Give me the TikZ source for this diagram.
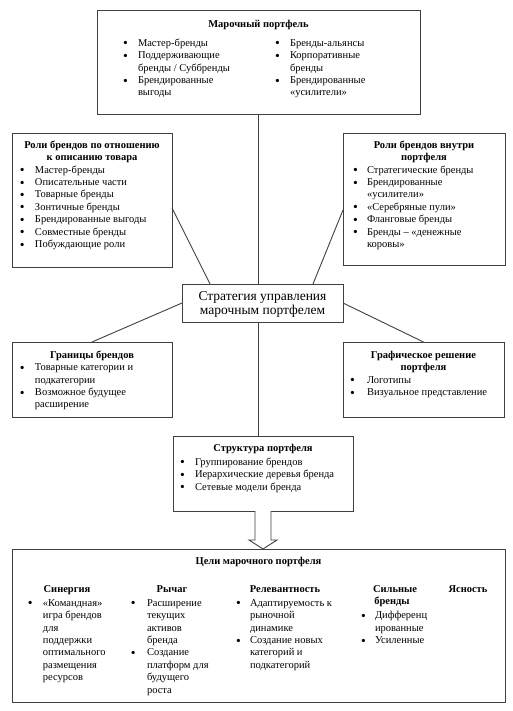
\documentclass[tikz,border=0pt]{standalone}
\usepackage{fontspec}
\usepackage{graphicx}
\setmainfont{Liberation Serif}
\usetikzlibrary{calc}
\newlength\bulO
\newlength\bulI
\newcommand\setbul[2]{\setlength\bulO{#1pt}\setlength\bulI{#2pt}\raggedright}
\newcommand\mybul{\raisebox{-1.5pt}{\scalebox{1.3}{\textbullet}}}
\newcommand\bitem[1]{\par\noindent\hangindent=\bulI\hangafter=1\relax\makebox[\bulI][l]{\hspace*{\bulO}\mybul}#1\par}
\newcommand\colhead[2]{\par\noindent\strut\hspace*{#1pt}\makebox[0pt]{\textbf{#2}}\par}
\newcommand\boxc[3]{\begin{minipage}[t][#2][t]{#1}#3\end{minipage}}
\tikzset{
  bx/.style={draw=black!75, line width=0.9pt, inner sep=0pt, outer sep=0pt, anchor=north west, fill=white, font=\fontsize{10.5}{12.4}\selectfont},
  conn/.style={draw=black!75, line width=0.9pt}
}
\begin{document}
\begin{tikzpicture}[x=1pt,y=-1pt]
\useasboundingbox (0,0) rectangle (512,711);

% top box
\node[bx] (top) at (97,10) {\boxc{323pt}{104pt}{%
\vspace*{8.7pt}
{\centering\strut\textbf{Марочный портфель}\par}
\vspace{6.6pt}
\noindent\parbox[t]{152pt}{\setbul{26}{41}%
\bitem{Мастер-бренды}
\bitem{Поддерживающие\newline бренды / Суббренды}
\bitem{Брендированные\newline выгоды}}%
\parbox[t]{171pt}{\setbul{26}{41}%
\bitem{Бренды-альянсы}
\bitem{Корпоративные\newline бренды}
\bitem{Брендированные\newline «усилители»}}%
}};

% left box 2
\node[bx] (l2) at (12,133) {\boxc{160pt}{134pt}{%
\vspace*{6.7pt}
{\centering\strut\textbf{Роли брендов по отношению}\\\strut\textbf{к описанию товара}\par}
\setbul{8}{23}%
\bitem{Мастер-бренды}
\bitem{Описательные части}
\bitem{Товарные бренды}
\bitem{Зонтичные бренды}
\bitem{Брендированные выгоды}
\bitem{Совместные бренды}
\bitem{Побуждающие роли}
}};

% right box 2
\node[bx] (r2) at (343,133) {\boxc{162pt}{132pt}{%
\vspace*{6.7pt}
{\centering\strut\textbf{Роли брендов внутри}\\\strut\textbf{портфеля}\par}
\setbul{10}{24}%
\bitem{Стратегические бренды}
\bitem{Брендированные\newline «усилители»}
\bitem{«Серебряные пули»}
\bitem{Фланговые бренды}
\bitem{Бренды – «денежные\newline коровы»}
}};

% strategy
\node[bx, font=\fontsize{13.5}{14}\selectfont] (strat) at (182,284) {\boxc{161pt}{38pt}{%
\vspace*{6.6pt}
\centering\strut Стратегия управления\\\strut марочным портфелем\par}};

% left box 3
\node[bx] (l3) at (12,342) {\boxc{160pt}{75pt}{%
\vspace*{7.7pt}
{\centering\strut\textbf{Границы брендов}\par}
\setbul{8}{23}%
\bitem{Товарные категории и\newline подкатегории}
\bitem{Возможное будущее\newline расширение}
}};

% right box 3
\node[bx] (r3) at (343,342) {\boxc{161pt}{75pt}{%
\vspace*{7.7pt}
{\centering\strut\textbf{Графическое решение}\\\strut\textbf{портфеля}\par}
\setbul{7}{24}%
\bitem{Логотипы}
\bitem{Визуальное представление}
}};

% structure
\node[bx] (struct) at (173,436) {\boxc{180pt}{75pt}{%
\vspace*{6.7pt}
{\centering\strut\textbf{Структура портфеля}\par}
\vspace{1.6pt}
\setbul{7}{22}%
\bitem{Группирование брендов}
\bitem{Иерархические деревья бренда}
\bitem{Сетевые модели бренда}
}};

% goals
\node[bx] (goals) at (12,549) {\boxc{493pt}{153pt}{%
\vspace*{7.2pt}
{\centering\strut\textbf{Цели марочного портфеля}\par}
\vspace{15.1pt}
\noindent\parbox[t]{108pt}{\setbul{16}{31}%
\colhead{55}{Синергия}\vspace{1.6pt}
\bitem{«Командная»\newline игра брендов\newline для\newline поддержки\newline оптимального\newline размещения\newline ресурсов}}%
\parbox[t]{108pt}{\setbul{11}{27}%
\colhead{52}{Рычаг}\vspace{1.6pt}
\bitem{Расширение\newline текущих\newline активов\newline бренда}
\bitem{Создание\newline платформ для\newline будущего\newline роста}}%
\parbox[t]{124pt}{\setbul{8}{22}%
\colhead{57}{Релевантность}\vspace{1.6pt}
\bitem{Адаптируемость к\newline рыночной\newline динамике}
\bitem{Создание новых\newline категорий и\newline подкатегорий}}%
\parbox[t]{88pt}{\setbul{9}{23}%
\colhead{43}{Сильные}
\colhead{40}{бренды}\vspace{1.6pt}
\bitem{Дифференц\newline ированные}
\bitem{Усиленные}}%
\parbox[t]{65pt}{\setbul{0}{0}%
\colhead{28}{Ясность}}%
}};

% connectors
\draw[conn] (top.south) -- (top.south |- strat.north);
\draw[conn] (strat.south -| top.south) -- (top.south |- struct.north);
\draw[conn] ([yshift=-8pt]l2.east) -- ([xshift=28pt]strat.north west);
\draw[conn] ([yshift=-11pt]r2.west) -- ([xshift=-30pt]strat.north east);
\draw[conn] (strat.west) -- (l3.north);
\draw[conn] (strat.east) -- (r3.north);

% hollow arrow
\draw[conn, fill=white] ($(struct.south)+(-8,0)$) -- ($(struct.south)+(-8,29)$) -- ($(struct.south)+(-14,29)$) -- (struct.south |- goals.north) -- ($(struct.south)+(14,29)$) -- ($(struct.south)+(8,29)$) -- ($(struct.south)+(8,0)$);
\end{tikzpicture}
\end{document}
